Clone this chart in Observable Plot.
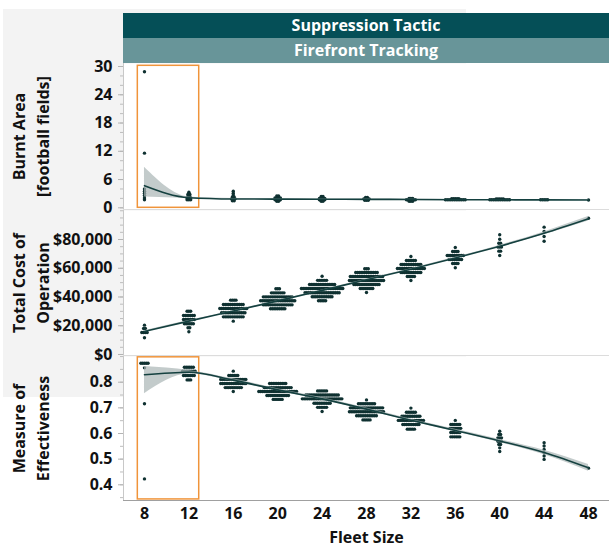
<!DOCTYPE html>
<html><head><meta charset="utf-8">
<script src="https://cdn.jsdelivr.net/npm/d3@7"></script>
<script src="https://cdn.jsdelivr.net/npm/@observablehq/plot@0.6"></script>
<style>
body{margin:0;background:#fff;font-family:"Open Sans",sans-serif;}
#wrap{position:relative;width:609px;height:548px;overflow:hidden}
#bg{position:absolute;left:3px;top:9px;width:463px;height:388px;background:#f3f3f3}
.hdr{position:absolute;left:123px;width:486px;height:25px;color:#fff;font-weight:700;font-size:16px;line-height:25px;text-align:center}
#h1{top:13px;background:#054f57}
#h2{top:38px;background:#689599}
.panel{position:absolute;left:0}
</style></head>
<body><div id="wrap">
<div id="bg"></div>
<div class="hdr" id="h1">Suppression Tactic</div>
<div class="hdr" id="h2">Firefront Tracking</div>
<div class="panel" id="p1" style="top:63px"></div>
<div class="panel" id="p2" style="top:210px"></div>
<div class="panel" id="p3" style="top:356px"></div>
</div>
<script>
// ---- data ----
const fleetSizes = [8,12,16,20,24,28,32,36,40,44,48];

// [fleet size, value bin, number of runs in bin]
const burntRows = [
 [8,28.9,1],[8,11.6,1],[8,4.0,1],[8,3.5,1],[8,3.1,1],[8,2.6,1],[8,2.1,1],[8,1.7,1],
 [12,3.3,1],[12,2.9,2],[12,2.5,2],[12,2.1,3],[12,1.7,3],
 [16,3.5,1],[16,3.1,1],[16,2.7,1],[16,2.3,2],[16,1.9,3],[16,1.5,2],
 [20,2.5,2],[20,2.1,4],[20,1.7,4],[20,1.4,2],
 [24,2.4,2],[24,2.0,4],[24,1.7,4],[24,1.4,2],
 [28,2.2,2],[28,1.9,4],[28,1.6,3],
 [32,2.0,3],[32,1.7,6],[32,1.4,3],
 [36,1.95,5],[36,1.7,12],
 [40,1.9,5],[40,1.7,12],
 [44,1.7,5],
 [48,1.65,1]
];
const costRows = [
 [8,20400,1],[8,18100,2],[8,15300,4],[8,11600,1],
 [12,30100,3],[12,27100,7],[12,24350,7],[12,21350,6],[12,18560,2],[12,15800,1],
 [16,37800,4],[16,34800,12],[16,32000,16],[16,29000,14],[16,26200,12],[16,23200,1],
 [20,45700,3],[20,42900,8],[20,40100,17],[20,37350,20],[20,34550,17],[20,31800,9],
 [24,54400,1],[24,51600,6],[24,48700,15],[24,45900,24],[24,43000,20],[24,40200,12],[24,37400,5],
 [28,59700,3],[28,57000,13],[28,54300,19],[28,51500,20],[28,48700,15],[28,45900,8],[28,43100,1],
 [32,68200,1],[32,65400,6],[32,62600,12],[32,59800,16],[32,57000,12],[32,54300,5],[32,51500,1],
 [36,74400,1],[36,71700,4],[36,68900,10],[36,66100,8],[36,63300,4],[36,60300,1],
 [40,83300,1],[40,80200,1],[40,77400,2],[40,74700,3],[40,71900,2],[40,68900,1],
 [44,88600,1],[44,85600,1],[44,82100,1],[44,78800,1],
 [48,94800,1]
];
const effRows = [
 [8,0.874,5],[8,0.856,1],[8,0.716,1],[8,0.423,1],
 [12,0.858,6],[12,0.843,8],[12,0.826,7],[12,0.809,3],
 [16,0.843,1],[16,0.826,6],[16,0.811,15],[16,0.795,15],[16,0.779,10],[16,0.764,1],
 [20,0.795,10],[20,0.779,16],[20,0.764,22],[20,0.748,13],[20,0.733,6],
 [24,0.766,6],[24,0.750,19],[24,0.735,23],[24,0.718,10],[24,0.702,6],[24,0.686,1],
 [28,0.731,1],[28,0.716,10],[28,0.700,19],[28,0.685,20],[28,0.669,12],[28,0.653,5],
 [32,0.699,1],[32,0.683,6],[32,0.667,11],[32,0.651,15],[32,0.635,10],[32,0.617,5],
 [36,0.651,1],[36,0.635,6],[36,0.620,7],[36,0.604,6],[36,0.587,6],
 [40,0.609,1],[40,0.596,2],[40,0.583,3],[40,0.570,3],[40,0.557,2],[40,0.544,1],[40,0.530,1],
 [44,0.564,1],[44,0.551,1],[44,0.538,1],[44,0.525,1],[44,0.512,1],[44,0.499,1],
 [48,0.465,1]
];

// smoother fit and confidence band at each fleet size
const burntFit = [4.7,2.15,1.88,1.85,1.82,1.8,1.76,1.72,1.7,1.68,1.65];
const burntLo  = [2.3,2.0,1.78,1.78,1.76,1.74,1.7,1.66,1.63,1.6,1.55];
const burntHi  = [8.6,2.3,1.98,1.92,1.88,1.86,1.82,1.78,1.77,1.76,1.75];
const costFit = [16000,23200,30200,37300,44600,52000,59300,67200,75300,84300,94400];
const costLo  = [15400,22800,29900,37000,44300,51700,59000,66800,74700,83300,92800];
const costHi  = [16600,23600,30500,37600,44900,52300,59600,67600,75900,85300,96000];
const effFit = [0.829,0.839,0.808,0.770,0.735,0.695,0.652,0.612,0.571,0.526,0.466];
const effLo  = [0.755,0.832,0.803,0.766,0.731,0.691,0.648,0.607,0.565,0.517,0.453];
const effHi  = [0.861,0.846,0.813,0.774,0.739,0.699,0.656,0.617,0.577,0.535,0.479];

// tick labels
const burntTicks = [0,6,12,18,24,30];
const costTicks = [0,20000,40000,60000,80000];
const effTicks = [0.4,0.5,0.6,0.7,0.8];

// highlighted region (fleet 8-12)
const burntHighlight = {x:[7.4,12.93], y:[0,30.15]};
const effHighlight = {x:[7.4,12.93], y:[0.343,0.897]};

// ---- drawing ----
const xDom = [6.11, 49.89];
const DX = 0.162;
const dotColor = "#0f3131";
const font = "background:transparent;font-family:'Open Sans',sans-serif;font-size:16px;font-weight:700;overflow:visible;color:#111";

function expand(rows){
  return rows.flatMap(([f,v,n]) => d3.range(n).map(i => ({x: f + (i-(n-1)/2)*DX, y: v})));
}
function fitTable(fit, lo, hi){
  return fleetSizes.map((f,i) => ({x:f, y:fit[i], lo:lo[i], hi:hi[i]}));
}
function range(a,b,s){ const out=[]; for(let v=a; v<=b+1e-9; v+=s) out.push(+v.toFixed(4)); return out; }

function panel({el, height, marginBottom, yDom, rows, fit, ticks, minor, fmt, title, hl, bottom}){
  const marks = [
    Plot.frame({fill:"white", stroke:"none"}),
  ];
  if (hl) marks.push(Plot.rect([hl], {x1:d=>d.x[0], x2:d=>d.x[1], y1:d=>d.y[0], y2:d=>d.y[1], fill:"none", stroke:"#f0943a", strokeWidth:1.5}));
  marks.push(
    Plot.dot(expand(rows), {x:"x", y:"y", r:1.7, fill:dotColor, stroke:"none"}),
    Plot.areaY(fit, {x:"x", y1:"lo", y2:"hi", curve:"monotone-x", fill:"#a9b5b5", fillOpacity:0.7}),
    Plot.line(fit, {x:"x", y:"y", curve:"monotone-x", stroke:"#14403f", strokeWidth:1.6}),
    Plot.axisY(minor, {tickSize:3, tickFormat:()=>"", stroke:"#bdbdbd", label:null}),
    Plot.axisY(ticks, {tickSize:5, tickPadding:6, tickFormat:fmt, stroke:"#b4b4b4", fill:"#111", label:null}),
    Plot.ruleX([xDom[0]], {stroke:"#c8c8c8"}),
    Plot.text([title], {frameAnchor:"left", textAnchor:"middle", lineAnchor:"middle", dx:-94, rotate:-90, lineHeight:1.5, fontSize:16, fontWeight:"bold", fill:"#111"})
  );
  if (bottom) {
    marks.push(
      Plot.ruleY([yDom[0]], {stroke:"#a0a0a0"}),
      Plot.axisX(fleetSizes, {tickSize:0, tickPadding:7, label:null, fill:"#111"}),
      Plot.text(["Fleet Size"], {frameAnchor:"bottom", textAnchor:"middle", lineAnchor:"middle", dy:37, fontSize:16, fontWeight:"bold", fill:"#111"})
    );
  } else {
    marks.push(Plot.ruleY([yDom[0]], {stroke:"#dcdcdc"}));
  }
  const chart = Plot.plot({
    width:609, height, marginLeft:123, marginRight:0, marginTop:0, marginBottom,
    style: font,
    x:{domain:xDom, axis: bottom ? undefined : null},
    y:{domain:yDom},
    marks
  });
  document.getElementById(el).append(chart);
}

panel({el:"p1", height:146, marginBottom:0, yDom:[-0.36,30.64], rows:burntRows,
  fit:fitTable(burntFit,burntLo,burntHi), ticks:burntTicks, minor:range(0,30,2), fmt:d=>String(d),
  title:"Burnt Area\n[football fields]", hl:burntHighlight});
panel({el:"p2", height:145, marginBottom:0, yDom:[-700,100180], rows:costRows,
  fit:fitTable(costFit,costLo,costHi), ticks:costTicks, minor:range(0,100000,5000), fmt:d=>"$"+d3.format(",")(d),
  title:"Total Cost of\nOperation"});
panel({el:"p3", height:192, marginBottom:48, yDom:[0.3388,0.9002], rows:effRows,
  fit:fitTable(effFit,effLo,effHi), ticks:effTicks, minor:range(0.35,0.9,0.05), fmt:d3.format(".1f"),
  title:"Measure of\nEffectiveness", hl:effHighlight, bottom:true});
</script>
</body></html>
